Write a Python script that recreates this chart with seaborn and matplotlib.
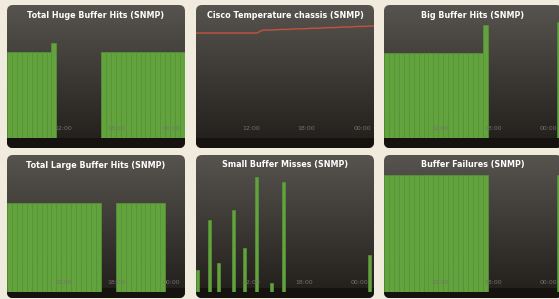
import numpy as np
import pandas as pd
import matplotlib
matplotlib.use('Agg')
import matplotlib.pyplot as plt
from matplotlib.patches import FancyBboxPatch, Rectangle
import seaborn as sns

nan = np.nan

# --- data (36 time bins per panel, 60 for the misses panel) ---
huge_hits = [72, 72, 72, 72, 72, 72, 72, 72, 72, 79,
             nan, nan, nan, nan, nan, nan, nan, nan, nan,
             72, 72, 72, 72, 72, 72, 72, 72, 72, 72, 72, 72, 72, 72, 72, 72, 72]

chassis_temp = [35, 35, 35, 35, 35, 35, 35, 35, 35, 35, 35, 35, 35,
                35.9, 36.0, 36.0, 36.1, 36.2, 36.2, 36.3, 36.4, 36.4, 36.5, 36.6,
                36.6, 36.7, 36.8, 36.8, 36.9, 37.0, 37.0, 37.1, 37.2, 37.2, 37.3, 37.3]

big_hits = [71, 71, 71, 71, 71, 71, 71, 71, 71, 71, 71, 71, 71, 71, 71, 71, 71, 71, 71, 71, 94,
            nan, nan, nan, nan, nan, nan, nan, nan, nan, nan, nan, nan, nan, nan,
            97]

large_hits = [73, 73, 73, 73, 73, 73, 73, 73, 73, 73, 73, 73, 73, 73, 73, 73, 73, 73, 73,
              nan, nan, nan,
              73, 73, 73, 73, 73, 73, 73, 73, 73, 73,
              nan, nan, nan, nan]

miss_bins = [0, 4, 7, 12, 16, 20, 25, 29, 58]
miss_values = [18, 59, 24, 67, 36, 94, 7, 90, 30]

failures = [96, 96, 96, 96, 96, 96, 96, 96, 96, 96, 96, 96, 96, 96, 96, 96, 96, 96, 96, 96, 96,
            nan, nan, nan, nan, nan, nan, nan, nan, nan, nan, nan, nan, nan, nan,
            96]

titles = ['Total Huge Buffer Hits (SNMP)', 'Cisco Temperature chassis (SNMP)', 'Big Buffer Hits (SNMP)',
          'Total Large Buffer Hits (SNMP)', 'Small Buffer Misses (SNMP)', 'Buffer Failures (SNMP)']
tick_labels = ['12:00', '18:00', '00:00']

W, H = 559, 299
CREAM = '#f1ebde'
GREEN = '#62a33e'
GREEN_EDGE = '#579538'
RED = '#c4523f'

fig = plt.figure(figsize=(W / 100, H / 100), dpi=100)
fig.patch.set_facecolor(CREAM)

col_left = [7, 196, 384]
row_top = [5, 155]
panel_w = 178
panel_h = [143, 143]
plot_top = [18, 170]
plot_bot = [138, 292]


def fig_rect(left, top, width, height):
    return [left / W, 1 - (top + height) / H, width / W, height / H]


def panel_background(left, top, width, height):
    bg = fig.add_axes(fig_rect(left, top, width, height))
    bg.set_xlim(0, width)
    bg.set_ylim(0, height)
    bg.axis('off')
    # vertical gradient, light grey at the top to near black at the bottom
    top_c = np.array(matplotlib.colors.to_rgb('#57544f'))
    bot_c = np.array(matplotlib.colors.to_rgb('#211d1a'))
    t = np.linspace(0, 1, 200)[:, None]
    grad = (top_c * (1 - t) + bot_c * t)[:, None, :]
    im = bg.imshow(grad, extent=(0, width, 0, height), aspect='auto', origin='upper')
    clip = FancyBboxPatch((0, 0), width, height, boxstyle='round,pad=0,rounding_size=6',
                          facecolor='none', edgecolor='none', transform=bg.transData)
    bg.add_patch(clip)
    im.set_clip_path(clip)
    strip = Rectangle((0, 0), width, 10, facecolor='#16120f', edgecolor='none')
    bg.add_patch(strip)
    strip.set_clip_path(clip)
    return bg


def style_plot(ax, n):
    ax.set_facecolor('none')
    for s in ax.spines.values():
        s.set_visible(False)
    ax.set_xlim(-0.5, n - 0.5)
    ax.set_yticks([])
    ax.set_xlabel('')
    ax.set_ylabel('')
    ax.set_xticks([0.3 * n, 0.6 * n, 0.91 * n])
    ax.set_xticklabels(tick_labels)
    ax.tick_params(axis='x', length=0, pad=-9, labelsize=4.5, colors='#77716a')
    for lab in ax.get_xticklabels():
        lab.set_zorder(5)


def bars(ax, values, bins=None, n=36, width=1.0):
    if bins is None:
        bins = list(range(len(values)))
    df = pd.DataFrame({'bin': bins, 'value': values}).dropna()
    sns.barplot(data=df, x='bin', y='value', order=list(range(n)), ax=ax,
                color=GREEN, edgecolor=GREEN_EDGE, linewidth=0.5, width=width,
                saturation=1, errorbar=None)
    ax.set_ylim(0, 100)
    style_plot(ax, n)


axes = []
for r in range(2):
    for c in range(3):
        panel_background(col_left[c], row_top[r], panel_w, panel_h[r])
        ax = fig.add_axes(fig_rect(col_left[c], plot_top[r], panel_w, plot_bot[r] - plot_top[r]))
        axes.append(ax)

bars(axes[0], huge_hits)

sns.lineplot(x=list(range(len(chassis_temp))), y=chassis_temp, ax=axes[1], color=RED, linewidth=1.0)
axes[1].set_ylim(0, 40)
style_plot(axes[1], len(chassis_temp))
axes[1].set_xlim(0, len(chassis_temp) - 1)

bars(axes[2], big_hits)
bars(axes[3], large_hits)
bars(axes[4], miss_values, bins=miss_bins, n=60, width=1.0)
bars(axes[5], failures)

# titles
for i, title in enumerate(titles):
    r, c = divmod(i, 3)
    x = (col_left[c] + panel_w / 2) / W
    y = 1 - (row_top[r] + 10) / H
    fig.text(x, y, title, ha='center', va='center', color='white',
             fontsize=5.8, fontweight='bold')

fig.savefig('out.png', dpi=100, facecolor=CREAM)
